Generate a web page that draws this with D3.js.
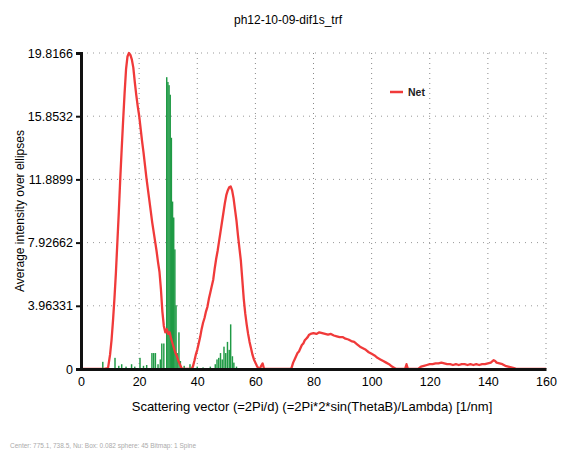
<!DOCTYPE html>
<html>
<head>
<meta charset="utf-8">
<script src="https://cdn.jsdelivr.net/npm/d3@7"></script>
<style>
  body { margin: 0; background: #fff; }
  text { font-family: "Liberation Sans", Arial, sans-serif; }
</style>
</head>
<body>
<script>
const w = 563
const h = 452
let padding = { top: 53, left: 81, bottom: 83, right: 17 }

// tick values on the axes
const xTicks = [0, 20, 40, 60, 80, 100, 120, 140, 160]
const yMax = 19.8166
const yTickLabels = ["0", "3.96331", "7.92662", "11.8899", "15.8532", "19.8166"]

// red "Net" curve (q, intensity)
const netQ = [0, 8, 9.3, 10, 10.5, 11, 11.5, 12, 12.5, 13, 13.5, 14, 14.5, 15, 15.5, 16, 16.5, 17, 17.5, 18,
  18.5, 19, 19.5, 20, 20.5, 21, 21.5, 22, 22.5, 23, 23.5, 24, 24.5, 25, 25.5, 26, 26.5, 27, 27.5, 28,
  28.5, 29, 29.5, 30, 30.5, 31, 31.5, 32, 32.5, 33, 33.5, 34, 34.6, 35, 38, 38.5, 39, 39.5, 40, 40.5,
  41, 41.5, 42, 42.5, 43, 43.5, 44, 44.5, 45, 45.5, 46, 46.5, 47, 47.5, 48, 48.5, 49, 49.5, 50, 50.5,
  51, 51.5, 52, 52.5, 53, 53.5, 54, 54.5, 55, 55.5, 56, 56.5, 57, 57.5, 58, 58.5, 59, 59.5, 60, 60.5,
  61, 61.5, 62, 62.5, 63, 72, 72.5, 73, 73.5, 74, 74.5, 75, 75.5, 76, 76.5, 77, 77.5, 78, 78.5, 79,
  80, 81, 82, 83, 84, 85, 86, 87, 88, 89, 90, 91, 92, 93, 94, 95, 96, 97, 98, 99,
  100, 101, 102, 103, 104, 105, 106, 107, 108, 108.5, 111.5, 112, 112.5, 116, 117, 118, 119, 120, 121, 122,
  123, 124, 125, 126, 127, 128, 129, 130, 131, 132, 133, 134, 135, 136, 137, 138, 139, 140, 141, 142,
  142.5, 143, 144, 145, 146, 147, 148, 149, 150, 160]
const netI = [0, 0, 0.05, 0.9, 1.8, 3.0, 4.4, 6.0, 7.9, 9.8, 11.9, 13.8, 15.6, 17.3, 18.8, 19.6, 19.82, 19.7, 19.4, 18.9,
  18.0, 17.2, 16.5, 15.9, 15.1, 14.3, 13.6, 12.8, 12.0, 11.3, 10.6, 9.9, 9.2, 8.6, 8.0, 7.4, 6.7, 6.1, 5.0, 3.6,
  2.7, 2.3, 2.5, 2.2, 2.3, 1.9, 1.6, 1.3, 1.0, 0.8, 0.5, 0.3, 0.05, 0, 0, 0.15, 0.5, 0.9, 1.2, 1.6,
  2.0, 2.5, 2.9, 3.2, 3.6, 3.9, 4.4, 4.8, 5.2, 5.6, 6.3, 6.9, 7.4, 8.0, 8.6, 9.2, 9.8, 10.4, 10.9, 11.2,
  11.4, 11.45, 11.2, 10.7, 10.0, 9.3, 8.4, 7.6, 6.8, 5.6, 4.4, 3.5, 2.8, 2.2, 1.7, 1.3, 0.9, 0.6, 0.4, 0.2,
  0.05, 0, 0.2, 0.35, 0, 0, 0.1, 0.4, 0.6, 0.8, 1.0, 1.1, 1.3, 1.5, 1.6, 1.8, 1.9, 2.0, 2.15, 2.2,
  2.25, 2.2, 2.3, 2.25, 2.2, 2.15, 2.2, 2.1, 2.05, 2.0, 2.0, 1.9, 1.85, 1.75, 1.7, 1.55, 1.4, 1.3, 1.2, 1.05,
  0.95, 0.85, 0.7, 0.6, 0.5, 0.4, 0.3, 0.15, 0.05, 0, 0, 0.3, 0, 0, 0.15, 0.2, 0.25, 0.3, 0.3, 0.35,
  0.35, 0.4, 0.35, 0.3, 0.3, 0.25, 0.3, 0.25, 0.3, 0.3, 0.25, 0.3, 0.25, 0.3, 0.25, 0.3, 0.3, 0.35, 0.4, 0.55,
  0.5, 0.4, 0.35, 0.3, 0.2, 0.15, 0.1, 0.05, 0, 0]

// green spikes (q, intensity)
const barQ = [7.5, 11.7, 13, 14, 15.5, 17.4, 18.5, 20.3, 21.5, 22.6, 24.4, 25, 25.6, 26.5, 27.3, 27.8, 28.5,
  29.5, 29.9, 30.3, 30.7, 31.1, 31.5, 31.9, 32.3, 32.7, 33.1, 33.7, 34.2, 35.5, 37.5, 38.4, 40, 42, 44.5,
  46.2, 46.8, 47.4, 48, 48.6, 49.2, 49.8, 50.4, 51, 51.5, 52.1, 52.6, 53.5]
const barI = [0.45, 0.7, 0.2, 0.3, 0.15, 0.3, 0.15, 0.7, 0.2, 0.25, 1.0, 1.0, 1.0, 0.3, 0.6, 1.6, 1.6,
  18.3, 18.0, 17.8, 17.2, 14.5, 10.5, 9.5, 7.5, 4.0, 1.0, 2.3, 0.5, 0.2, 0.3, 0.2, 0.15, 0.1, 0.15,
  0.3, 0.6, 0.7, 1.0, 0.6, 1.4, 1.0, 1.7, 1.2, 2.8, 0.8, 0.4, 0.15]

const svg = d3.select('body')
    .append('svg')
    .attr('width', w)
    .attr('height', h)

const xScale = d3.scaleLinear().domain([0, 160]).range([padding.left, w - padding.right])
const yScale = d3.scaleLinear().domain([0, yMax]).range([h - padding.bottom, padding.top])
const yTicks = yTickLabels.map((d, i) => i * yMax / 5)

// dotted grid
svg.append("g")
    .selectAll("line.vg")
    .data(xTicks.slice(1))
    .enter()
    .append("line")
    .attr("x1", d => xScale(d)).attr("x2", d => xScale(d))
    .attr("y1", yScale(yMax)).attr("y2", yScale(0))
    .attr("stroke", "#888")
    .attr("stroke-dasharray", "1,4")
svg.append("g")
    .selectAll("line.hg")
    .data(yTicks.slice(1))
    .enter()
    .append("line")
    .attr("x1", xScale(0)).attr("x2", xScale(160))
    .attr("y1", d => yScale(d)).attr("y2", d => yScale(d))
    .attr("stroke", "#999")
    .attr("stroke-dasharray", "1,5")

// green bars
svg.append("g")
    .selectAll("rect")
    .data(barQ)
    .enter()
    .append("rect")
    .attr("x", d => xScale(d - 0.25))
    .attr("width", xScale(0.5) - xScale(0))
    .attr("y", (d, i) => yScale(barI[i]))
    .attr("height", (d, i) => yScale(0) - yScale(barI[i]))
    .attr("fill", "#1f9a45")

// red line
const line = d3.line()
    .x(d => xScale(d))
    .y((d, i) => yScale(netI[i]))
svg.append("path")
    .attr("d", line(netQ))
    .attr("fill", "none")
    .attr("stroke", "#f03a3a")
    .attr("stroke-width", 2.3)
    .attr("stroke-linejoin", "round")

// axes
const xAxis = d3.axisBottom(xScale).tickValues(xTicks).tickSize(0).tickPadding(8)
const yAxis = d3.axisLeft(yScale).tickValues(yTicks).tickSize(5).tickPadding(3)
    .tickFormat((d, i) => yTickLabels[i])

const gx = svg.append("g")
    .attr("transform", `translate(0,${yScale(0)})`)
    .call(xAxis)
const gy = svg.append("g")
    .attr("transform", `translate(${xScale(0)},0)`)
    .call(yAxis)
gx.select(".domain").attr("stroke", "#111").attr("stroke-width", 3)
gy.select(".domain").attr("stroke", "#111").attr("stroke-width", 3)
gy.selectAll(".tick line").attr("stroke", "#111").attr("stroke-width", 2)
gx.selectAll("text").attr("font-size", "12.5px").attr("fill", "#000").attr("font-family", "Liberation Sans, Arial")
gy.selectAll("text").attr("font-size", "12.5px").attr("fill", "#000").attr("font-family", "Liberation Sans, Arial")

// titles
svg.append("text")
    .attr("x", 288).attr("y", 24)
    .attr("text-anchor", "middle")
    .attr("font-size", "12px")
    .text("ph12-10-09-dif1s_trf")
svg.append("text")
    .attr("x", 312).attr("y", 411)
    .attr("text-anchor", "middle")
    .attr("font-size", "13px")
    .attr("fill", "#000")
    .text("Scattering vector (=2Pi/d) (=2Pi*2*sin(ThetaB)/Lambda) [1/nm]")
svg.append("text")
    .attr("transform", "translate(24,211) rotate(-90)")
    .attr("text-anchor", "middle")
    .attr("font-size", "12px")
    .attr("fill", "#000")
    .text("Average intensity over ellipses")

// legend
svg.append("line")
    .attr("x1", 390).attr("x2", 403)
    .attr("y1", 92).attr("y2", 92)
    .attr("stroke", "#f03a3a").attr("stroke-width", 2.5)
svg.append("text")
    .attr("x", 408).attr("y", 96)
    .attr("font-size", "10.5px")
    .attr("font-weight", "bold")
    .attr("fill", "#222")
    .text("Net")

// faint footer
svg.append("text")
    .attr("x", 10).attr("y", 448)
    .attr("font-size", "6.5px")
    .attr("fill", "#aaa")
    .text("Center: 775.1, 738.5, Nu: Box: 0.082 sphere: 45 Bitmap: 1 Spine")
</script>
</body>
</html>
